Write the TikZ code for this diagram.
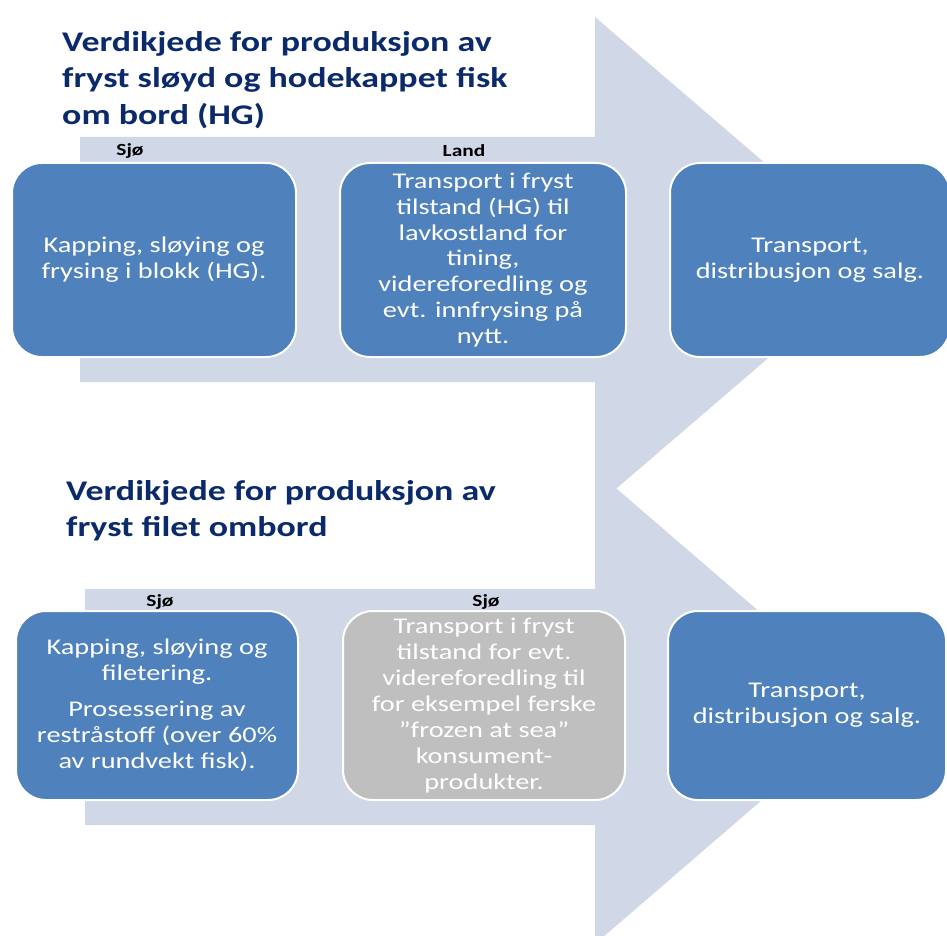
\documentclass[tikz,border=0pt]{standalone}
\usepackage{fontspec}
\setmainfont{Carlito}[FakeStretch=1.26, Ligatures=ResetAll]
\definecolor{arrowfill}{HTML}{D0D8E8}
\definecolor{boxblue}{HTML}{4F81BD}
\definecolor{boxgray}{HTML}{BFBFBF}
\definecolor{titlenavy}{HTML}{0B2A6B}
\begin{document}
\begin{tikzpicture}[x=1pt,y=-1pt,
  stepbox/.style={rounded corners=30pt, fill=boxblue, draw=white, line width=2pt,
    text=white, font=\fontsize{22.5}{25.9}\selectfont, align=center, inner sep=0pt},
  graybox/.style={stepbox, fill=boxgray},
  titletext/.style={anchor=north west, align=left, text=titlenavy, inner sep=0pt,
    font=\fontsize{28.5}{36.5}\selectfont\bfseries},
  zonelabel/.style={font=\fontsize{17}{20}\selectfont\bfseries, text=black, inner sep=0pt}]
\useasboundingbox (0,0) rectangle (947,936);
\clip (0,0) rectangle (947,936);
% background arrows
\fill[arrowfill] (80,137) -- (595,137) -- (595,17) -- (880,262) -- (595,507) -- (595,382) -- (80,382) -- cycle;
\fill[arrowfill] (85,589) -- (595,589) -- (595,470) -- (870,707) -- (595,944) -- (595,825) -- (85,825) -- cycle;
% titles
\node[titletext] (t1) at (62,31) {Verdikjede for produksjon av\\fryst sløyd og hodekappet fisk\\om bord (HG)};
\node[titletext] (t2) at (66,480) {Verdikjede for produksjon av\\fryst filet ombord};
% zone labels
\node[zonelabel] (l1) at (130,151) {Sjø};
\node[zonelabel] (l2) at (464,151) {Land};
\node[zonelabel] (l3) at (160,602) {Sjø};
\node[zonelabel] (l4) at (486,602) {Sjø};
% top row
\node[stepbox, minimum width=284pt, minimum height=194pt] (a1) at (154,260)
  {Kapping, sløying og\\frysing i blokk (HG).};
\node[stepbox, minimum width=286pt, minimum height=194pt] (a2) at (483,260)
  {Transport i fryst\\tilstand (HG) til\\lavkostland for\\tining,\\videreforedling og\\evt. innfrysing på\\nytt.};
\node[stepbox, minimum width=280pt, minimum height=194pt] (a3) at (810,260)
  {Transport,\\distribusjon og salg.};
% bottom row
\node[stepbox, minimum width=282pt, minimum height=189pt] (b1) at (157,705.5)
  {Kapping, sløying og\\filetering.\\[10pt]Prosessering av\\restråstoff (over 60\%\\av rundvekt fisk).};
\node[graybox, minimum width=282pt, minimum height=189pt] (b2) at (484,705.5)
  {Transport i fryst\\tilstand for evt.\\videreforedling til\\for eksempel ferske\\"frozen at sea"\\konsument-\\produkter.};
\node[stepbox, minimum width=278pt, minimum height=189pt] (b3) at (807,705.5)
  {Transport,\\distribusjon og salg.};
\end{tikzpicture}
\end{document}
